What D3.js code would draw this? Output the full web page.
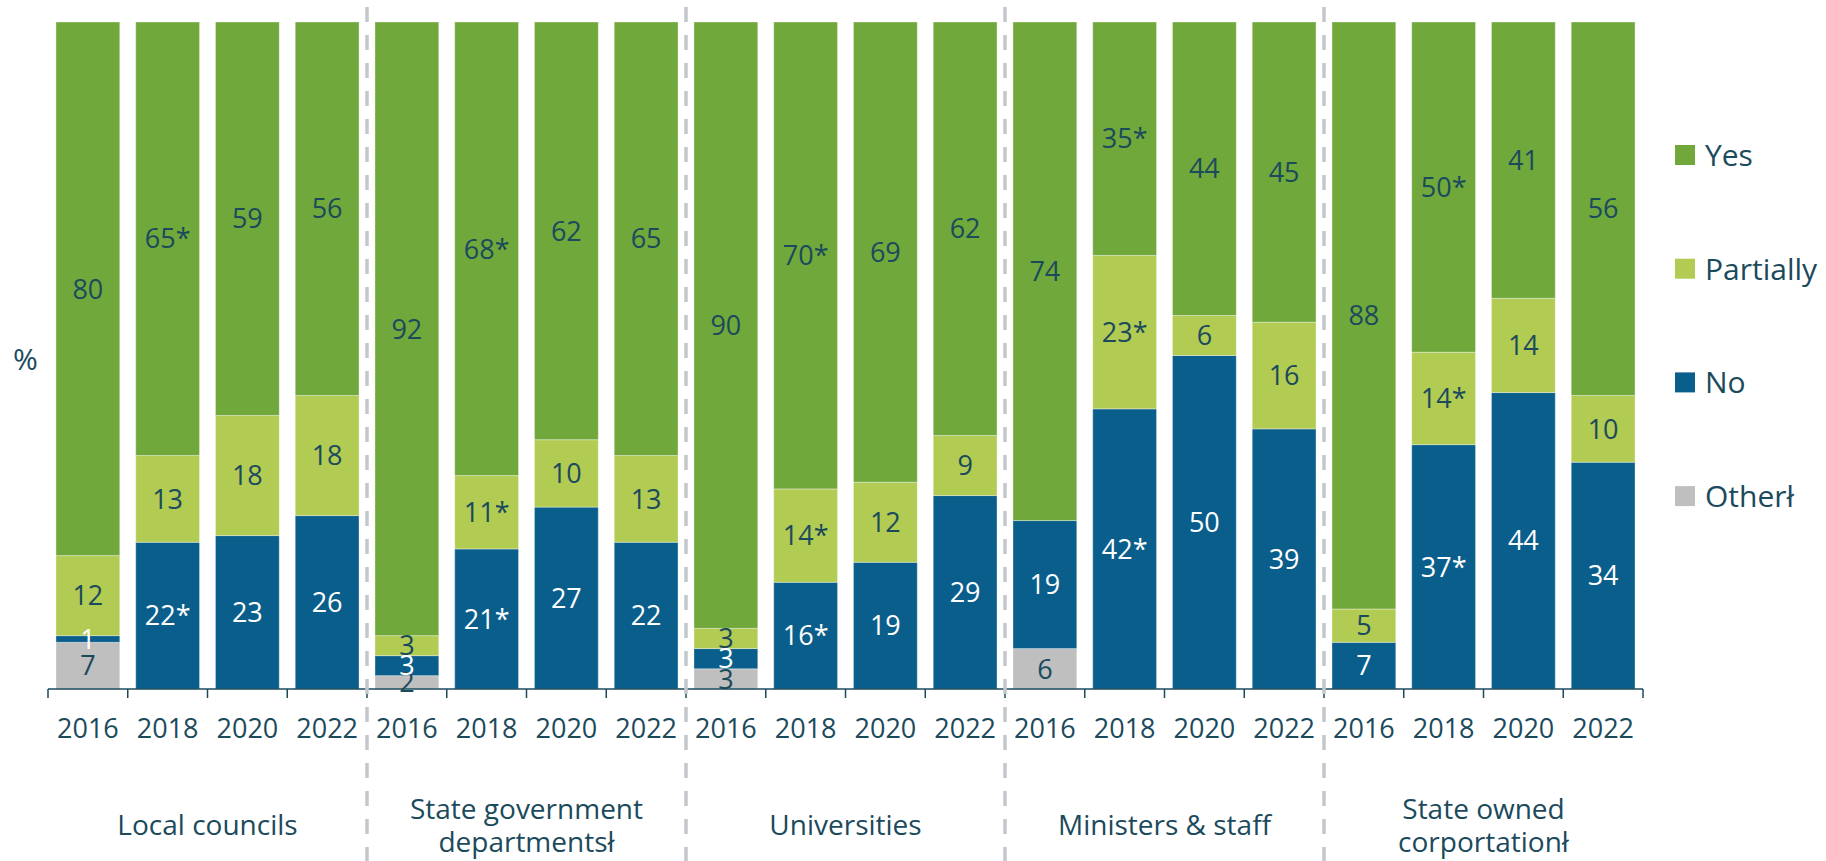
<!DOCTYPE html>
<html>
<head>
<meta charset="utf-8">
<title>Stacked bars</title>
<script src="https://d3js.org/d3.v7.min.js"></script>
<style>
  body { margin: 0; background: #fff; }
  text { font-family: "Open Sans", sans-serif; fill: #1b4a5c; }
</style>
</head>
<body>
<svg width="1826" height="861"></svg>
<script>
// --- data ---
var groups = [
  ["Local councils"],
  ["State government", "departmentsł"],
  ["Universities"],
  ["Ministers & staff"],
  ["State owned", "corportationł"]
];
var years = ["2016", "2018", "2020", "2022"];

var yes       = [80, 65, 59, 56,  92, 68, 62, 65,  90, 70, 69, 62,  74, 35, 44, 45,  88, 50, 41, 56];
var partially = [12, 13, 18, 18,   3, 11, 10, 13,   3, 14, 12,  9,   0, 23,  6, 16,   5, 14, 14, 10];
var no        = [ 1, 22, 23, 26,   3, 21, 27, 22,   3, 16, 19, 29,  19, 42, 50, 39,   7, 37, 44, 34];
var other     = [ 7,  0,  0,  0,   2,  0,  0,  0,   3,  0,  0,  0,   6,  0,  0,  0,   0,  0,  0,  0];

// significant change flags (shown with *)
var yesStar   = [0, 1, 0, 0,  0, 1, 0, 0,  0, 1, 0, 0,  0, 1, 0, 0,  0, 1, 0, 0];
var partStar  = [0, 0, 0, 0,  0, 1, 0, 0,  0, 1, 0, 0,  0, 1, 0, 0,  0, 1, 0, 0];
var noStar    = [0, 1, 0, 0,  0, 1, 0, 0,  0, 1, 0, 0,  0, 1, 0, 0,  0, 1, 0, 0];
var otherStar = [0, 0, 0, 0,  0, 0, 0, 0,  0, 0, 0, 0,  0, 0, 0, 0,  0, 0, 0, 0];

var keys = ["other", "no", "partially", "yes"];
var legendNames = {yes: "Yes", partially: "Partially", no: "No", other: "Otherł"};
var colors = {yes: "#70a83b", partially: "#b2cb53", no: "#0a5e8c", other: "#bfbfbf"};
var stars = {yes: yesStar, partially: partStar, no: noStar, other: otherStar};

var rows = [];
groups.forEach(function(g, gi) {
  years.forEach(function(yr, yi) {
    var i = gi * years.length + yi;
    rows.push({id: i, group: gi, year: yr,
      yes: yes[i], partially: partially[i], no: no[i], other: other[i]});
  });
});

var svg = d3.select("svg");
var plotLeft = 48, plotRight = 1643, plotTop = 22, plotBottom = 689;
var ink = "#1b4a5c";

var x = d3.scaleBand()
  .domain(rows.map(function(d) { return d.id; }))
  .range([plotLeft, plotRight])
  .paddingInner(0.2)
  .paddingOuter(0.1);

var y = d3.scaleLinear().domain([0, 1]).range([plotBottom, plotTop]);

var series = d3.stack()
  .keys(keys)
  .offset(d3.stackOffsetExpand)(rows);

var layer = svg.selectAll(".layer")
  .data(series)
  .enter().append("g")
    .attr("class", "layer")
    .attr("fill", function(s) { return colors[s.key]; });

layer.selectAll("rect")
  .data(function(s) { return s; })
  .enter().append("rect")
    .attr("x", function(d) { return x(d.data.id); })
    .attr("width", x.bandwidth())
    .attr("y", function(d) { return y(d[1]); })
    .attr("height", function(d) { return y(d[0]) - y(d[1]); })
    .attr("stroke", "rgba(255,255,255,0.35)")
    .attr("stroke-width", 1);

// value labels
series.forEach(function(s) {
  svg.append("g").selectAll("text")
    .data(s.filter(function(d) { return d.data[s.key] > 0; }))
    .enter().append("text")
      .attr("x", function(d) { return x(d.data.id) + x.bandwidth() / 2; })
      .attr("y", function(d) { return (y(d[0]) + y(d[1])) / 2; })
      .attr("dy", "0.36em")
      .attr("text-anchor", "middle")
      .style("font-size", "27px")
      .style("fill", s.key == "no" ? "#ffffff" : ink)
      .text(function(d) { return d.data[s.key] + (stars[s.key][d.data.id] ? "*" : ""); });
});

// x axis
var axis = svg.append("g")
  .attr("transform", "translate(0," + plotBottom + ")")
  .call(d3.axisBottom(x)
    .tickSize(0)
    .tickPadding(30)
    .tickFormat(function(id) { return rows[id].year; }));
axis.select(".domain").attr("stroke", ink).attr("stroke-width", 1.5)
  .attr("d", "M" + plotLeft + ",0H" + plotRight);
axis.selectAll("text")
  .style("font-size", "27px")
  .style("font-family", "'Open Sans', sans-serif")
  .attr("fill", ink);

// ticks at band edges
var step = x.step();
axis.selectAll(".edge")
  .data(d3.range(rows.length + 1))
  .enter().append("line")
    .attr("class", "edge")
    .attr("x1", function(i) { return plotLeft + i * step; })
    .attr("x2", function(i) { return plotLeft + i * step; })
    .attr("y1", 0).attr("y2", 9)
    .attr("stroke", ink).attr("stroke-width", 1.5);

// group separators
svg.append("g").selectAll("line")
  .data(d3.range(1, groups.length))
  .enter().append("line")
    .attr("x1", function(k) { return plotLeft + k * years.length * step; })
    .attr("x2", function(k) { return plotLeft + k * years.length * step; })
    .attr("y1", 7).attr("y2", 861)
    .attr("stroke", "#c3c7cb")
    .attr("stroke-width", 3.5)
    .attr("stroke-dasharray", "15,13");

// group labels
var lineGap = 33;
svg.append("g").selectAll("text")
  .data(groups)
  .enter().append("text")
    .attr("text-anchor", "middle")
    .style("font-size", "28px")
    .each(function(lines, gi) {
      var cx = plotLeft + (gi + 0.5) * years.length * step;
      var y0 = 835 - (lines.length - 1) * lineGap / 2;
      d3.select(this).selectAll("tspan")
        .data(lines)
        .enter().append("tspan")
          .attr("x", cx)
          .attr("y", function(l, li) { return y0 + li * lineGap; })
          .text(function(l) { return l; });
    });

// y unit
svg.append("text")
  .attr("x", 25.5).attr("y", 370)
  .attr("text-anchor", "middle")
  .style("font-size", "30px")
  .text("%");

// legend
var legendKeys = ["yes", "partially", "no", "other"];
var legend = svg.append("g").selectAll("g")
  .data(legendKeys)
  .enter().append("g")
    .attr("transform", function(k, i) { return "translate(1675," + (155 + i * 113.7) + ")"; });
legend.append("rect")
  .attr("x", 0).attr("y", -10)
  .attr("width", 20).attr("height", 20)
  .attr("fill", function(k) { return colors[k]; });
legend.append("text")
  .attr("x", 30).attr("dy", "0.36em")
  .style("font-size", "30px")
  .text(function(k) { return legendNames[k]; });
</script>
</body>
</html>
